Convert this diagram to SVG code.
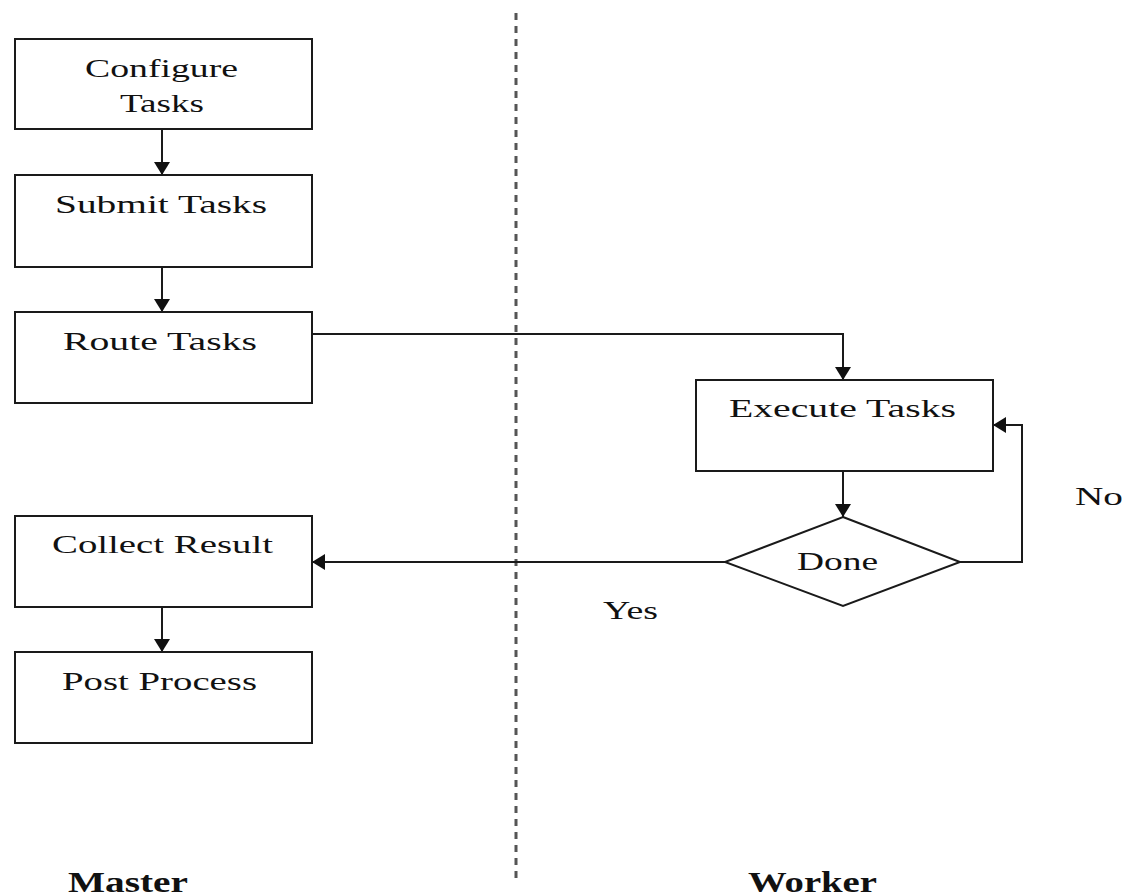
<svg xmlns="http://www.w3.org/2000/svg" width="1129" height="896" viewBox="0 0 1129 896">
  <style>
    .box { fill: #ffffff; stroke: #1a1a1a; stroke-width: 2; }
    .lbl { font-family: "Liberation Serif", "DejaVu Serif", serif; font-size: 25px; fill: #111111; }
    .lane { font-family: "Liberation Serif", "DejaVu Serif", serif; font-size: 29px; font-weight: bold; fill: #111111; }
    .wire { fill: none; stroke: #1a1a1a; stroke-width: 2; }
    .divider { fill: none; stroke: #555555; stroke-width: 3; stroke-dasharray: 7 6; }
  </style>
  <defs>
    <marker id="arrow" markerUnits="userSpaceOnUse" markerWidth="14" markerHeight="16" viewBox="0 0 14 16" refX="13" refY="8" orient="auto">
      <path d="M0,0 L13,8 L0,16 Z" fill="#111111"/>
    </marker>
  </defs>

  <rect width="1129" height="896" fill="#ffffff"/>

  <!-- swimlane divider -->
  <line class="divider" x1="516" y1="13" x2="516" y2="882"/>

  <!-- connectors -->
  <g id="connectors">
    <path class="wire" d="M162,129 L162,175" marker-end="url(#arrow)"/>
    <path class="wire" d="M162,267 L162,312" marker-end="url(#arrow)"/>
    <path class="wire" d="M312,334 L843,334 L843,380" marker-end="url(#arrow)"/>
    <path class="wire" d="M843,471 L843,517" marker-end="url(#arrow)"/>
    <path class="wire" d="M960,562 L1022,562 L1022,425 L993,425" marker-end="url(#arrow)"/>
    <path class="wire" d="M725,562 L312,562" marker-end="url(#arrow)"/>
    <path class="wire" d="M162,607 L162,652" marker-end="url(#arrow)"/>
    <text class="lbl" x="1075" y="505" textLength="48" lengthAdjust="spacingAndGlyphs">No</text>
    <text class="lbl" x="603" y="619" textLength="55" lengthAdjust="spacingAndGlyphs">Yes</text>
  </g>

  <!-- master lane -->
  <g id="configure-tasks">
    <rect class="box" x="15" y="39" width="297" height="90"/>
    <text class="lbl" x="85" y="77" textLength="153" lengthAdjust="spacingAndGlyphs">Configure</text>
    <text class="lbl" x="120" y="112" textLength="84" lengthAdjust="spacingAndGlyphs">Tasks</text>
  </g>
  <g id="submit-tasks">
    <rect class="box" x="15" y="175" width="297" height="92"/>
    <text class="lbl" x="55" y="213" textLength="212" lengthAdjust="spacingAndGlyphs">Submit Tasks</text>
  </g>
  <g id="route-tasks">
    <rect class="box" x="15" y="312" width="297" height="91"/>
    <text class="lbl" x="63" y="350" textLength="194" lengthAdjust="spacingAndGlyphs">Route Tasks</text>
  </g>
  <g id="collect-result">
    <rect class="box" x="15" y="516" width="297" height="91"/>
    <text class="lbl" x="52" y="553" textLength="221" lengthAdjust="spacingAndGlyphs">Collect Result</text>
  </g>
  <g id="post-process">
    <rect class="box" x="15" y="652" width="297" height="91"/>
    <text class="lbl" x="62" y="690" textLength="195" lengthAdjust="spacingAndGlyphs">Post Process</text>
  </g>

  <!-- worker lane -->
  <g id="execute-tasks">
    <rect class="box" x="696" y="380" width="297" height="91"/>
    <text class="lbl" x="729" y="417" textLength="227" lengthAdjust="spacingAndGlyphs">Execute Tasks</text>
  </g>
  <g id="done">
    <polygon class="box" points="843,517 960,562 843,606 725,562"/>
    <text class="lbl" x="797" y="570" textLength="81" lengthAdjust="spacingAndGlyphs">Done</text>
  </g>

  <!-- lane titles -->
  <g id="lane-titles">
    <text class="lane" x="68" y="892" textLength="120" lengthAdjust="spacingAndGlyphs">Master</text>
    <text class="lane" x="748" y="892" textLength="129" lengthAdjust="spacingAndGlyphs">Worker</text>
  </g>
</svg>
